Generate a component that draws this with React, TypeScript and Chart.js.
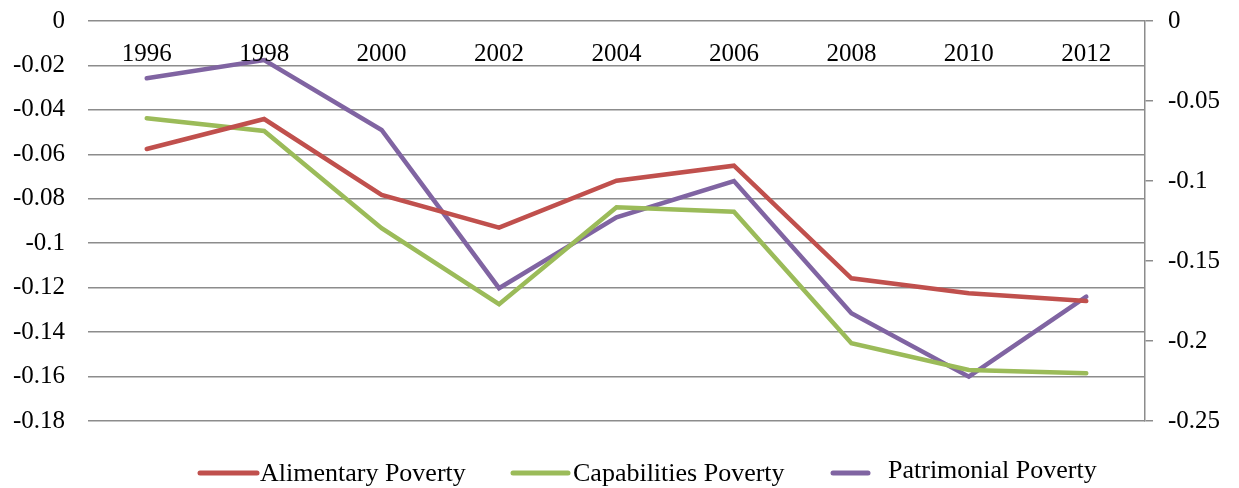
import React, { useEffect, useRef } from "react";
import { Chart, registerables } from "chart.js";

Chart.register(...registerables);

// Survey years shown along the top of the plot
const years = ["1996", "1998", "2000", "2002", "2004", "2006", "2008", "2010", "2012"];

// Left axis series
const alimentary = [-0.0576, -0.0441, -0.0783, -0.093, -0.0719, -0.0651, -0.1158, -0.1225, -0.126];
const capabilities = [-0.0438, -0.0495, -0.0932, -0.1274, -0.0838, -0.0858, -0.145, -0.157, -0.1585];

// Right axis series
const patrimonial = [-0.0358, -0.0244, -0.0681, -0.167, -0.1227, -0.1, -0.1827, -0.2223, -0.1723];

const seriesNames = ["Alimentary Poverty", "Capabilities Poverty", "Patrimonial Poverty"];
const seriesColors = ["#C0504D", "#9BBB59", "#8064A2"];

const FONT = "'Liberation Serif', 'Times New Roman', serif";
const GRID = "#8c8c8c";

const fmt = (v: number) => {
  const n = Number(Number(v).toFixed(2));
  return n === 0 ? "0" : String(n);
};

// Category labels sit just under the top gridline, inside the plot area
const yearLabels = {
  id: "yearLabels",
  afterDraw(chart: any) {
    const { ctx, chartArea, scales } = chart;
    ctx.save();
    ctx.font = `25px ${FONT}`;
    ctx.fillStyle = "#000";
    ctx.textAlign = "center";
    ctx.textBaseline = "alphabetic";
    years.forEach((y, i) => {
      ctx.fillText(y, scales.x.getPixelForValue(i), chartArea.top + 40);
    });
    ctx.restore();
  },
};

// Legend row below the plot
const bottomLegend = {
  id: "bottomLegend",
  afterDraw(chart: any) {
    const { ctx } = chart;
    const items = [
      { x0: 200, x1: 257, tx: 260, ty: 481 },
      { x0: 513, x1: 568, tx: 573, ty: 481 },
      { x0: 833, x1: 868, tx: 888, ty: 478 },
    ];
    ctx.save();
    ctx.font = `26px ${FONT}`;
    ctx.textAlign = "left";
    ctx.textBaseline = "alphabetic";
    items.forEach((it, i) => {
      ctx.strokeStyle = seriesColors[i];
      ctx.lineWidth = 5;
      ctx.lineCap = "round";
      ctx.beginPath();
      ctx.moveTo(it.x0, 473);
      ctx.lineTo(it.x1, 473);
      ctx.stroke();
      ctx.fillStyle = "#000";
      ctx.fillText(seriesNames[i], it.tx, it.ty);
    });
    ctx.restore();
  },
};

export default function App() {
  const ref = useRef<HTMLCanvasElement | null>(null);

  useEffect(() => {
    if (!ref.current) return;
    const mk = (i: number, data: number[], axis: string) => ({
      label: seriesNames[i],
      data,
      yAxisID: axis,
      borderColor: seriesColors[i],
      backgroundColor: seriesColors[i],
      borderWidth: 4.5,
      borderCapStyle: "round" as const,
      pointRadius: 0,
      tension: 0,
      fill: false,
    });
    const chart = new Chart(ref.current, {
      type: "line",
      data: {
        labels: years,
        datasets: [mk(0, alimentary, "y"), mk(1, capabilities, "y"), mk(2, patrimonial, "y1")],
      },
      options: {
        animation: false,
        responsive: true,
        maintainAspectRatio: false,
        layout: { padding: { top: 21, bottom: 67, left: 0, right: 0 } },
        plugins: { legend: { display: false }, tooltip: { enabled: false } },
        scales: {
          x: { display: false, offset: true },
          y: {
            position: "left",
            min: -0.18,
            max: 0,
            afterFit: (s: any) => {
              s.width = 88;
              s.paddingTop = 0;
              s.paddingBottom = 0;
            },
            ticks: {
              stepSize: 0.02,
              padding: 23,
              color: "#000",
              font: { family: FONT, size: 25 },
              callback: (v: any) => fmt(v),
            },
            grid: { color: GRID, lineWidth: 1.5, drawTicks: false },
            border: { display: false },
          },
          y1: {
            position: "right",
            min: -0.25,
            max: 0,
            afterFit: (s: any) => {
              s.width = 94;
              s.paddingTop = 0;
              s.paddingBottom = 0;
            },
            ticks: {
              stepSize: 0.05,
              padding: 15,
              color: "#000",
              font: { family: FONT, size: 25 },
              callback: (v: any) => fmt(v),
            },
            grid: { drawOnChartArea: false, drawTicks: true, tickLength: 8, color: GRID, lineWidth: 1.5 },
            border: { display: true, color: GRID, width: 1.5 },
          },
        },
      },
      plugins: [yearLabels, bottomLegend],
    });
    return () => chart.destroy();
  }, []);

  return (
    <div style={{ position: "fixed", left: 0, top: 0, width: 1239, height: 488, background: "#fff" }}>
      <canvas ref={ref} />
    </div>
  );
}
